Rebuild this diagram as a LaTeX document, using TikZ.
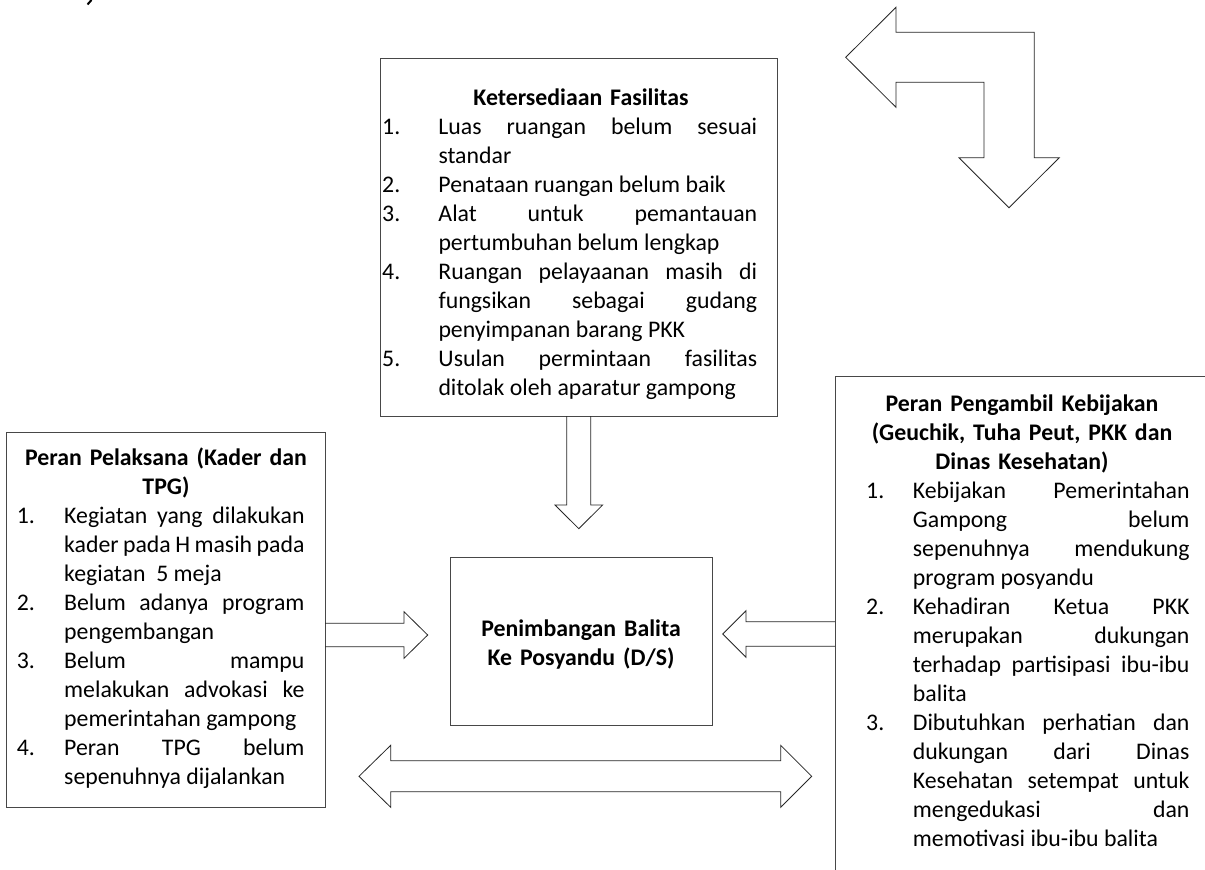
\documentclass[tikz,border=0pt]{standalone}
\usepackage{fontspec}
\setmainfont{Carlito}
\tolerance=10000
\hbadness=10000
\hyphenpenalty=10000
\exhyphenpenalty=10000
\newlength\listhang
\newcommand{\litem}[2]{\noindent\hangindent=\listhang\hangafter=1\makebox[\listhang][l]{#1}#2\par}
\begin{document}
\begin{tikzpicture}[x=1pt,y=-1pt,
  boxst/.style={draw=black!72, line width=1.1pt, inner sep=0pt, anchor=north west},
  arr/.style={draw=black!85, line width=0.8pt, line join=miter},
  body/.style={inner sep=0pt, anchor=base west, font=\fontsize{23.8}{29}\selectfont, align=justify},
  hd/.style={inner sep=0pt, anchor=base, font=\fontsize{23.8}{29}\selectfont\bfseries, align=center}]
\clip (0,0) rectangle (1205,870);
\fill[white] (0,0) rectangle (1205,870);

% cropped fragment at top left
\draw[line width=2pt] (87.5,4.5) -- (91.5,0);

% boxes
\node[boxst, minimum width=397pt, minimum height=357.7pt] (topbox) at (380,58.3) {};
\node[boxst, minimum width=319pt, minimum height=375pt] (leftbox) at (6,431.7) {};
\node[boxst, minimum width=262.3pt, minimum height=168.3pt] (cbox) at (450,556.7) {};
\node[boxst, minimum width=420pt, minimum height=540pt] (rbox) at (835,376) {};

% top box text
\node[hd, text width=380pt] (tophd) at (581,105) {Ketersediaan Fasilitas};
\node[body, text width=375pt] (toplist) at (382,134) {\setlength\listhang{56.3pt}%
\litem{1.}{Luas ruangan belum sesuai\linebreak standar}%
\litem{2.}{Penataan ruangan belum baik}%
\litem{3.}{Alat untuk pemantauan\linebreak pertumbuhan belum lengkap}%
\litem{4.}{Ruangan pelayaanan masih di\linebreak fungsikan sebagai gudang\linebreak penyimpanan barang PKK}%
\litem{5.}{Usulan permintaan fasilitas\linebreak ditolak oleh aparatur gampong}};

% left box text
\node[hd, text width=300pt] (lefthd) at (166,465) {Peran Pelaksana (Kader dan\\TPG)};
\node[body, text width=287.6pt] (leftlist) at (16.7,523.5) {\setlength\listhang{47.3pt}%
\litem{1.}{Kegiatan yang dilakukan\linebreak kader pada H masih pada\linebreak kegiatan\ \ 5 meja}%
\litem{2.}{Belum adanya program\linebreak pengembangan}%
\litem{3.}{Belum mampu\linebreak melakukan advokasi ke\linebreak pemerintahan gampong}%
\litem{4.}{Peran TPG belum\linebreak sepenuhnya dijalankan}};

% right box text
\node[hd, text width=340pt] (righthd) at (1022,411) {Peran Pengambil Kebijakan\\(Geuchik, Tuha Peut, PKK dan\\Dinas Kesehatan)};
\node[body, text width=323.3pt] (rightlist) at (866,498) {\setlength\listhang{46.7pt}%
\litem{1.}{Kebijakan Pemerintahan\linebreak Gampong belum\linebreak sepenuhnya mendukung\linebreak program posyandu}%
\litem{2.}{Kehadiran Ketua PKK\linebreak merupakan dukungan\linebreak terhadap partisipasi ibu-ibu\linebreak balita}%
\litem{3.}{Dibutuhkan perhatian dan\linebreak dukungan dari Dinas\linebreak Kesehatan setempat untuk\linebreak mengedukasi dan\linebreak memotivasi ibu-ibu balita}};

% center text
\node[hd, text width=250pt] (ctext) at (581,636) {Penimbangan Balita\\Ke Posyandu (D/S)};

% block arrows
\draw[arr] (566.8,416) -- (566.8,505) -- (555,505) -- (578.8,528.7) -- (602.6,505) -- (590.8,505) -- (590.8,416);
\draw[arr] (325,623.3) -- (404,623.3) -- (404,611.7) -- (427.7,635) -- (404,658.3) -- (404,646.7) -- (325,646.7);
\draw[arr] (835,621.8) -- (746,621.8) -- (746,610.7) -- (722.7,634) -- (746,657.3) -- (746,646.2) -- (835,646.2);
\draw[arr] (359,776.3) -- (390.7,745.3) -- (390.7,760.8) -- (780.7,760.8) -- (780.7,745.3) -- (811.7,776.3) -- (780.7,807.3) -- (780.7,791.8) -- (390.7,791.8) -- (390.7,807.3) -- cycle;
\draw[arr] (845.7,57.3) -- (896,7.3) -- (896,32.3) -- (1034.3,32.3) -- (1034.3,157.7) -- (1059.3,157.7) -- (1009,207.7) -- (959,157.7) -- (984,157.7) -- (984,82.3) -- (896,82.3) -- (896,107.3) -- cycle;
\end{tikzpicture}
\end{document}
